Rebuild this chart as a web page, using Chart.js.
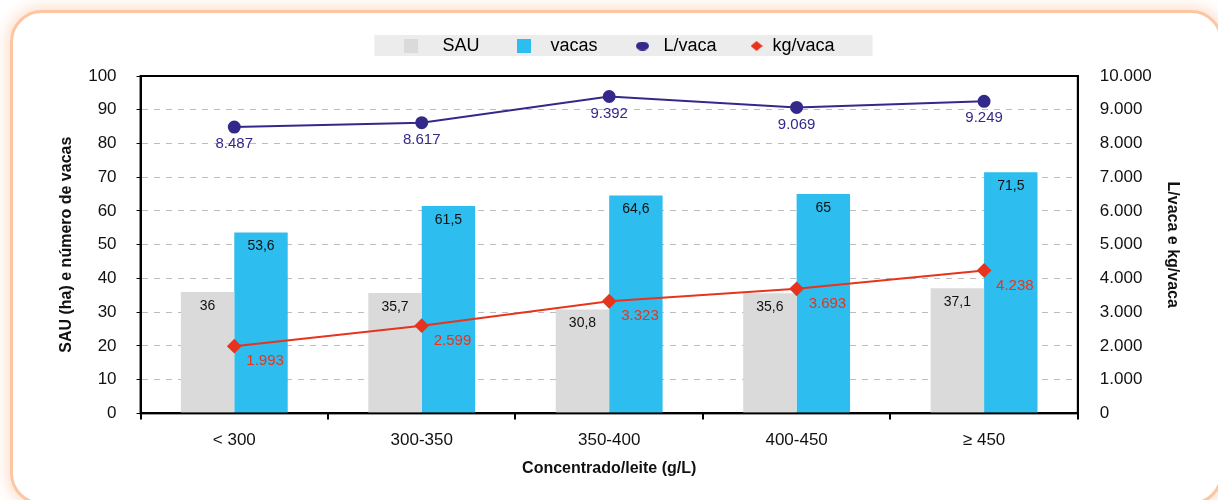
<!DOCTYPE html>
<html>
<head>
<meta charset="utf-8">
<script src="https://cdn.jsdelivr.net/npm/chart.js@4/dist/chart.umd.min.js"></script>
<style>
  body { margin: 0; background: #fff; overflow: hidden; }
  #frame {
    position: absolute; left: 10px; top: 10px; width: 1207px; height: 489px;
    border: 3px solid #fcc6a2; border-radius: 32px; background: #fff;
    box-shadow: 0 0 14px 4px #fde1cf;
  }
  #wrap { position: absolute; left: 0; top: 0; width: 1218px; height: 500px; }
</style>
</head>
<body>
<div id="frame"></div>
<div id="wrap"><canvas id="myChart"></canvas></div>
<script>
const categories = ["< 300", "300-350", "350-400", "400-450", "\u2265 450"];
const sauValues = [36, 35.7, 30.8, 35.6, 37.1];
const vacasValues = [53.6, 61.5, 64.6, 65, 71.5];
const litrosValues = [8487, 8617, 9392, 9069, 9249];
const kgValues = [1993, 2599, 3323, 3693, 4238];

const FONT = "'Liberation Sans', Arial, sans-serif";
const SAU_COLOR = "#d9dad9";
const VACAS_COLOR = "#2dbdee";
const L_COLOR = "#33298a";
const KG_COLOR = "#e8341c";

function fmtDec(v) { return String(v).replace(".", ","); }
function fmtThousands(v) { return v.toString().replace(/\B(?=(\d{3})+(?!\d))/g, "."); }

// small legend markers
function marker(w, h, color, shape) {
  const c = document.createElement("canvas");
  c.width = w; c.height = h;
  const g = c.getContext("2d");
  g.fillStyle = color;
  g.beginPath();
  if (shape === "rect") g.rect(0, 0, w, h);
  else if (shape === "ellipse") g.ellipse(w / 2, h / 2, w / 2, h / 2, 0, 0, Math.PI * 2);
  else { g.moveTo(w / 2, 0); g.lineTo(w, h / 2); g.lineTo(w / 2, h); g.lineTo(0, h / 2); g.closePath(); }
  g.fill();
  return c;
}
const legendMarks = [
  marker(14, 14, SAU_COLOR, "rect"),
  marker(14, 14, VACAS_COLOR, "rect"),
  marker(13, 9, L_COLOR, "ellipse"),
  marker(12, 10, KG_COLOR, "diamond")
];
const legendText = ["   SAU   ", "  vacas   ", " L/vaca  ", "kg/vaca"];

// empty strip between legend and plot
const spacer = {
  id: "spacer",
  start(chart) {
    Chart.layouts.addBox(chart, {
      position: "top", weight: 500, fullSize: true, options: {},
      left: 0, top: 0, right: 0, bottom: 0, width: 0, height: 0,
      isHorizontal() { return true; },
      update(maxWidth) { this.width = maxWidth; this.height = 11; },
      draw() {}
    });
  }
};

const frameBox = {
  id: "frameBox",
  beforeDraw(chart) {
    const ctx = chart.ctx;
    const hb = chart.legend.legendHitBoxes;
    if (hb && hb.length) {
      const x0 = hb[0].left - 30;
      const last = hb[hb.length - 1];
      const x1 = last.left + last.width + 38;
      const y0 = hb[0].top - 2;
      ctx.save();
      ctx.fillStyle = "#ececec";
      ctx.fillRect(x0, y0, x1 - x0, 21);
      ctx.restore();
    }
  },
  afterDatasetsDraw(chart) {
    const ctx = chart.ctx;
    const a = chart.chartArea;
    ctx.save();
    ctx.strokeStyle = "#000";
    ctx.lineWidth = 2;
    ctx.strokeRect(a.left, a.top, a.right - a.left, a.bottom - a.top);
    chart.data.datasets.forEach((ds, i) => {
      const meta = chart.getDatasetMeta(i);
      meta.data.forEach((el, j) => {
        const v = ds.data[j];
        ctx.textBaseline = "middle";
        if (ds.type === "bar") {
          ctx.font = "14px " + FONT;
          ctx.fillStyle = "#111";
          ctx.textAlign = "center";
          ctx.fillText(fmtDec(v), el.x, el.y + 14);
        } else if (i === 2) {
          ctx.font = "15px " + FONT;
          ctx.fillStyle = L_COLOR;
          ctx.textAlign = "center";
          ctx.fillText(fmtThousands(v), el.x, el.y + 17);
        } else {
          ctx.font = "15px " + FONT;
          ctx.fillStyle = KG_COLOR;
          ctx.textAlign = "left";
          ctx.fillText(fmtThousands(v), el.x + 12, el.y + 15);
        }
      });
    });
    ctx.restore();
  }
};

new Chart("myChart", {
  type: "bar",
  data: {
    labels: categories,
    datasets: [
      { type: "bar", label: "SAU", data: sauValues, backgroundColor: SAU_COLOR, yAxisID: "y", order: 3,
        categoryPercentage: 0.57, barPercentage: 1 },
      { type: "bar", label: "vacas", data: vacasValues, backgroundColor: VACAS_COLOR, yAxisID: "y", order: 3,
        categoryPercentage: 0.57, barPercentage: 1 },
      { type: "line", label: "L/vaca", data: litrosValues, yAxisID: "y1", order: 1,
        borderColor: L_COLOR, backgroundColor: L_COLOR, borderWidth: 2,
        pointStyle: "circle", pointRadius: 5.5, pointHoverRadius: 5.5 },
      { type: "line", label: "kg/vaca", data: kgValues, yAxisID: "y1", order: 2,
        borderColor: KG_COLOR, backgroundColor: KG_COLOR, borderWidth: 2,
        pointStyle: "rectRot", pointRadius: 6, pointHoverRadius: 6 }
    ]
  },
  options: {
    responsive: true,
    maintainAspectRatio: false,
    animation: false,
    layout: { padding: { top: 14, left: 57, right: 36, bottom: 18 } },
    plugins: {
      legend: {
        position: "top",
        labels: {
          color: "#111",
          font: { family: FONT, size: 18 },
          boxWidth: 14,
          boxHeight: 14,
          padding: 23,
          usePointStyle: true,
          generateLabels(chart) {
            return chart.data.datasets.map((ds, i) => ({
              text: legendText[i],
              fillStyle: ds.backgroundColor,
              strokeStyle: ds.backgroundColor,
              lineWidth: 0,
              pointStyle: legendMarks[i],
              datasetIndex: i
            }));
          }
        }
      },
      tooltip: { enabled: false }
    },
    scales: {
      x: {
        grid: { display: true, offset: true, drawOnChartArea: false, color: "#000", tickColor: "#000", tickLength: 6, lineWidth: 2 },
        border: { display: true, color: "#000", width: 2 },
        ticks: { color: "#111", font: { family: FONT, size: 17 }, padding: 11 },
        title: { display: true, text: "Concentrado/leite (g/L)", color: "#111", font: { family: FONT, size: 16, weight: "bold" }, padding: { top: -3 } }
      },
      y: {
        position: "left",
        min: 0, max: 100,
        ticks: { stepSize: 10, color: "#111", font: { family: FONT, size: 17 }, padding: 20 },
        grid: { color: "#bdbdbd", lineWidth: 1, tickColor: "#000", tickLength: 4 },
        border: { display: true, color: "#000", width: 2, dash: [6, 6] },
        title: { display: true, text: "SAU (ha) e n\u00famero de vacas", color: "#111", font: { family: FONT, size: 16, weight: "bold" }, padding: { top: 0, bottom: -8 } }
      },
      y1: {
        position: "right",
        min: 0, max: 10000,
        ticks: { stepSize: 1000, color: "#111", font: { family: FONT, size: 17 }, padding: 22, callback: v => fmtThousands(v) },
        grid: { drawOnChartArea: false, tickLength: 0 },
        border: { display: true, color: "#000", width: 2 },
        title: { display: true, text: "L/vaca e kg/vaca", color: "#111", font: { family: FONT, size: 16, weight: "bold" }, padding: { top: 0, bottom: -11 } }
      }
    }
  },
  plugins: [spacer, frameBox]
});
</script>
</body>
</html>
